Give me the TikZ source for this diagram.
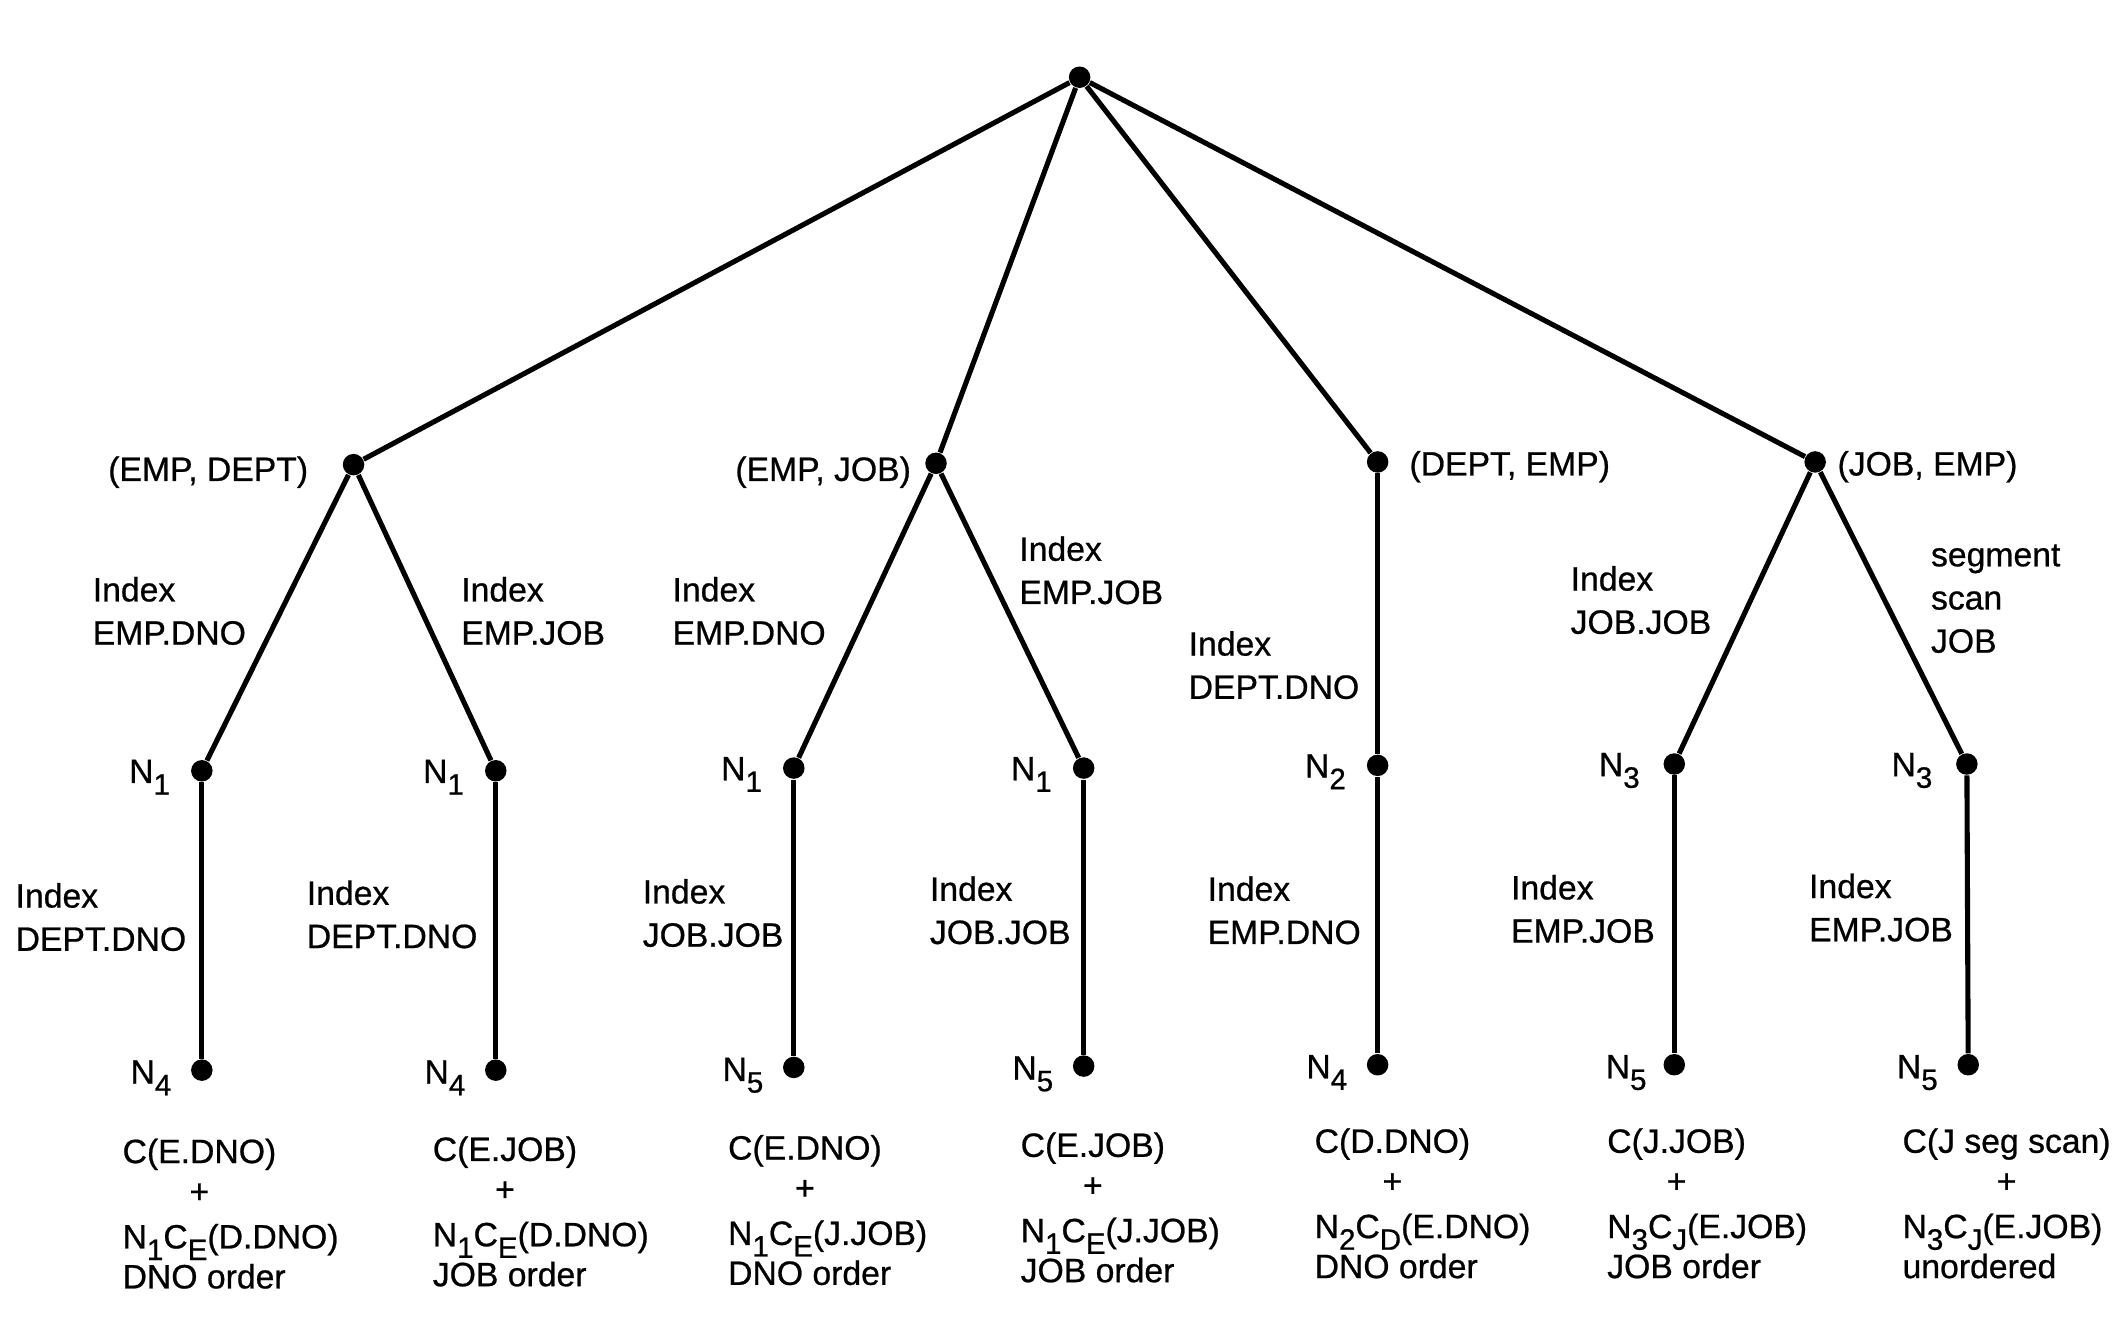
\documentclass[tikz,border=0pt]{standalone}
\usepackage{fontspec}
\setmainfont{Liberation Sans}[FakeBold=0.7]
\usetikzlibrary{calc}
\newcommand\sub[1]{\raisebox{-3.3pt}{\fontsize{8.4}{8.4}\selectfont #1}}
\newcommand\costblock[6]{%
  \node[txt,anchor=base west] (#1a) at (#2,#3) {#4};
  \node[txt,anchor=base] (#1b) at ($(#1a.base west)!.5!(#1a.base east)+(0,29.5)$) {+};
  \node[txt,anchor=base west] (#1c) at ($(#1a.base west)+(0,63)$) {#5};
  \node[txt,anchor=base west] (#1d) at ($(#1a.base west)+(0,92.5)$) {#6};
}
\begin{document}
\begin{tikzpicture}[x=0.013546cm,y=-0.013546cm,
  dot/.style={circle,fill=black,inner sep=0pt,minimum size=0.215cm},
  edge/.style={line width=1.45pt},
  txt/.style={inner sep=0pt,font=\fontsize{9.6}{12.3}\selectfont},
  lbl/.style={txt,align=left,anchor=west}]
\useasboundingbox (0,0) rectangle (1568,980);
% dots
\node[dot] (r) at (797,57) {};
\node[dot] (A) at (261,343) {};
\node[dot] (B) at (691,342) {};
\node[dot] (C) at (1017,341) {};
\node[dot] (D) at (1340,341) {};
\node[dot] (a1) at (149,569) {};
\node[dot] (a2) at (366,569) {};
\node[dot] (b1) at (586,567) {};
\node[dot] (b2) at (800,567) {};
\node[dot] (c1) at (1017,565) {};
\node[dot] (d1) at (1236,564) {};
\node[dot] (d2) at (1452,564) {};
\node[dot] (a1b) at (149,790) {};
\node[dot] (a2b) at (366,790) {};
\node[dot] (b1b) at (586,788) {};
\node[dot] (b2b) at (800,787) {};
\node[dot] (c1b) at (1017,786) {};
\node[dot] (d1b) at (1236,786) {};
\node[dot] (d2b) at (1453,786) {};
% edges
\draw[edge] (r) -- (A);
\draw[edge] (r) -- (B);
\draw[edge] (r) -- (C);
\draw[edge] (r) -- (D);
\draw[edge] (A) -- (a1);
\draw[edge] (A) -- (a2);
\draw[edge] (B) -- (b1);
\draw[edge] (B) -- (b2);
\draw[edge] (C) -- (c1);
\draw[edge] (D) -- (d1);
\draw[edge] (D) -- (d2);
\draw[edge] (a1) -- (a1b);
\draw[edge] (a2) -- (a2b);
\draw[edge] (b1) -- (b1b);
\draw[edge] (b2) -- (b2b);
\draw[edge] (c1) -- (c1b);
\draw[edge] (d1) -- (d1b);
\draw[edge] (d2) -- (d2b);
% level-1 labels
\node[txt,anchor=base east] (lA) at (228,355) {(EMP, DEPT)};
\node[txt,anchor=base east] (lB) at (673,355) {(EMP, JOB)};
\node[txt,anchor=base west] (lC) at (1040,351) {(DEPT, EMP)};
\node[txt,anchor=base west] (lD) at (1356,351) {(JOB, EMP)};
% edge labels (upper)
\node[lbl] (e1) at (68,451) {Index\\EMP.DNO};
\node[lbl] (e2) at (340,451) {Index\\EMP.JOB};
\node[lbl] (e3) at (496,451) {Index\\EMP.DNO};
\node[lbl] (e4) at (752,421) {Index\\EMP.JOB};
\node[lbl] (e5) at (877,491) {Index\\DEPT.DNO};
\node[lbl] (e6) at (1159,443) {Index\\JOB.JOB};
\node[lbl] (e7) at (1425,442) {segment\\scan\\JOB};
% edge labels (lower)
\node[lbl] (v1) at (11,677) {Index\\DEPT.DNO};
\node[lbl] (v2) at (226,675) {Index\\DEPT.DNO};
\node[lbl] (v3) at (474,674) {Index\\JOB.JOB};
\node[lbl] (v4) at (686,672) {Index\\JOB.JOB};
\node[lbl] (v5) at (891,672) {Index\\EMP.DNO};
\node[lbl] (v6) at (1115,671) {Index\\EMP.JOB};
\node[lbl] (v7) at (1335,670) {Index\\EMP.JOB};
% N labels level 2
\node[txt,anchor=base east] (na1) at ($(a1)+(-23,9)$) {N\sub{1}};
\node[txt,anchor=base east] (na2) at ($(a2)+(-23,9)$) {N\sub{1}};
\node[txt,anchor=base east] (nb1) at ($(b1)+(-23,9)$) {N\sub{1}};
\node[txt,anchor=base east] (nb2) at ($(b2)+(-23,9)$) {N\sub{1}};
\node[txt,anchor=base east] (nc1) at ($(c1)+(-23,9)$) {N\sub{2}};
\node[txt,anchor=base east] (nd1) at ($(d1)+(-25,9)$) {N\sub{3}};
\node[txt,anchor=base east] (nd2) at ($(d2)+(-25,9)$) {N\sub{3}};
% N labels level 3
\node[txt,anchor=base east] (na1b) at ($(a1b)+(-22,10)$) {N\sub{4}};
\node[txt,anchor=base east] (na2b) at ($(a2b)+(-22,10)$) {N\sub{4}};
\node[txt,anchor=base east] (nb1b) at ($(b1b)+(-22,10)$) {N\sub{5}};
\node[txt,anchor=base east] (nb2b) at ($(b2b)+(-22,10)$) {N\sub{5}};
\node[txt,anchor=base east] (nc1b) at ($(c1b)+(-22,10)$) {N\sub{4}};
\node[txt,anchor=base east] (nd1b) at ($(d1b)+(-20,10)$) {N\sub{5}};
\node[txt,anchor=base east] (nd2b) at ($(d2b)+(-22,10)$) {N\sub{5}};
% cost blocks
\costblock{k1}{90}{858.6}{C(E.DNO)}{N\sub{1}C\sub{E}(D.DNO)}{DNO order}
\costblock{k2}{319}{857}{C(E.JOB)}{N\sub{1}C\sub{E}(D.DNO)}{JOB order}
\costblock{k3}{537}{856}{C(E.DNO)}{N\sub{1}C\sub{E}(J.JOB)}{DNO order}
\costblock{k4}{753}{854}{C(E.JOB)}{N\sub{1}C\sub{E}(J.JOB)}{JOB order}
\costblock{k5}{970}{851}{C(D.DNO)}{N\sub{2}C\sub{D}(E.DNO)}{DNO order}
\costblock{k6}{1186}{851}{C(J.JOB)}{N\sub{3}C\sub{J}(E.JOB)}{JOB order}
\costblock{k7}{1404}{851}{C(J seg scan)}{N\sub{3}C\sub{J}(E.JOB)}{unordered}
\end{tikzpicture}
\end{document}
